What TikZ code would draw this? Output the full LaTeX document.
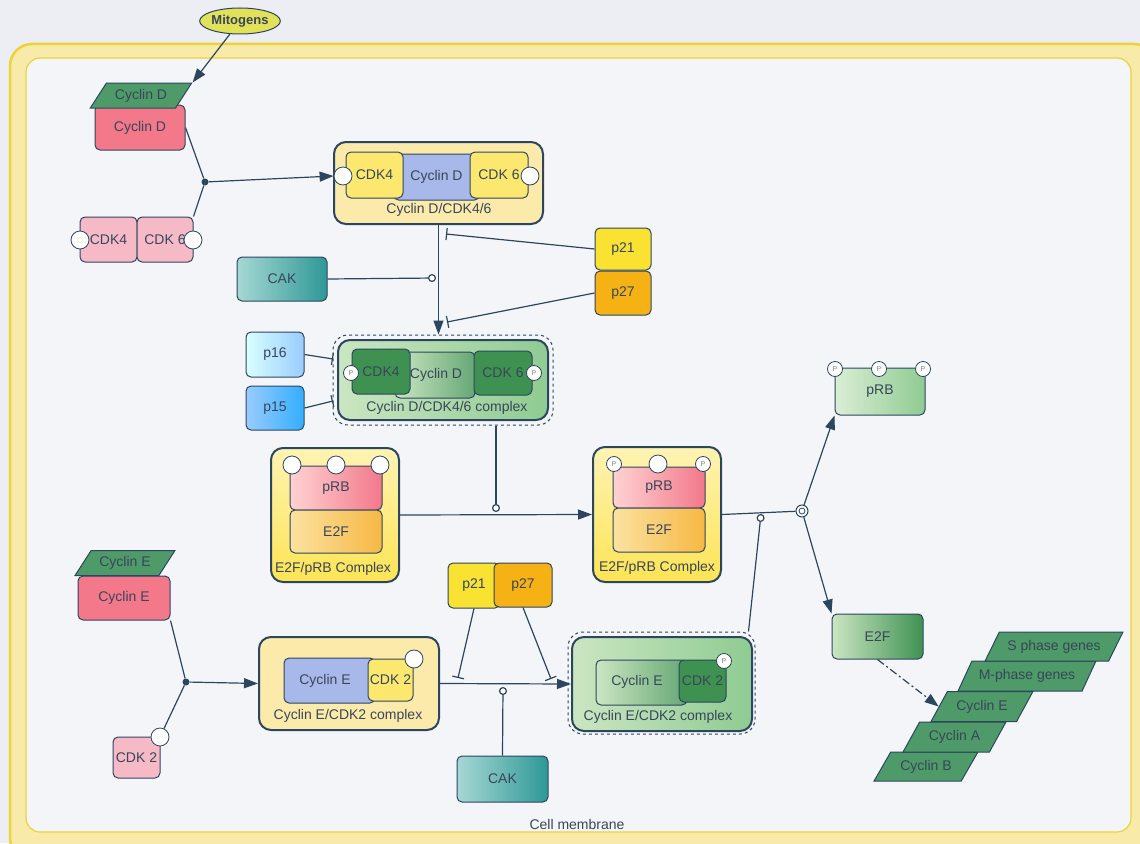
\documentclass[tikz,border=0pt]{standalone}
\usepackage{fontspec}
\setmainfont{Liberation Sans}
\usetikzlibrary{arrows.meta,shapes.geometric}

\definecolor{edge}{HTML}{2C4660}
\definecolor{txt}{HTML}{38465A}
\definecolor{bgout}{HTML}{ECEEF3}
\definecolor{bgin}{HTML}{F4F5F9}
\definecolor{memb}{HTML}{F8EAA8}
\definecolor{membedge}{HTML}{EDD23A}
\definecolor{mito}{HTML}{E2E25A}
\definecolor{genegreen}{HTML}{4E9A68}
\definecolor{cycpink}{HTML}{F2788A}
\definecolor{cdkpink}{HTML}{F6BAC6}
\definecolor{cplxyellow}{HTML}{FBEAAA}
\definecolor{cdkyellow}{HTML}{FCE86E}
\definecolor{cycblue}{HTML}{A8B8E8}
\definecolor{cdkgreen}{HTML}{3F9152}
\definecolor{lightgreen}{HTML}{CBE6C2}
\definecolor{midgreen}{HTML}{8FCB92}
\definecolor{pyellow}{HTML}{F9E232}
\definecolor{porange}{HTML}{F6B214}
\definecolor{caklight}{HTML}{A6D8D4}
\definecolor{cakdark}{HTML}{2E9896}
\definecolor{e2flight}{HTML}{FFF3B4}
\definecolor{e2fdark}{HTML}{FDE454}
\definecolor{peach}{HTML}{FBE2A0}
\definecolor{e2forange}{HTML}{F6B844}

\begin{document}
\begin{tikzpicture}[x=1pt,y=-1pt,
  font=\fontsize{14}{16}\selectfont, text=txt,
  box/.style={draw=edge, line width=1pt, rounded corners=5pt, inner sep=0pt},
  cplx/.style={draw=edge, line width=2pt, rounded corners=12pt, inner sep=0pt},
  halo/.style={draw=edge, line width=1pt, dashed, rounded corners=15pt, inner sep=0pt},
  port/.style={circle, draw=edge, fill=white, line width=0.8pt, minimum size=18pt, inner sep=0pt},
  pport/.style={port, minimum size=15pt, font=\fontsize{7}{7}\selectfont, text=gray},
  gene/.style={trapezium, trapezium left angle=47, trapezium right angle=133,
    trapezium stretches=true, draw=edge, line width=1pt, fill=genegreen, inner sep=0pt},
  dot/.style={circle, fill=edge, minimum size=7pt, inner sep=0pt},
  sink/.style={circle, draw=edge, fill=white, line width=1pt, minimum size=12pt, inner sep=0pt,
    path picture={\draw[edge,line width=0.8pt] (path picture bounding box.center) circle (3pt);}},
  link/.style={draw=edge, line width=1.2pt},
  conv/.style={link, -{Triangle[length=14pt,width=10pt]}},
  inhib/.style={link, -{Bar[width=12pt]}},
  cat/.style={link, -{Circle[length=8pt,width=8pt,fill=white]}},
]
\clip (0,0) rectangle (1140,843);
\fill[bgout] (0,0) rectangle (1140,843);
\draw[fill=memb, draw=membedge, line width=2.5pt, rounded corners=22pt] (10,44) rectangle (1156,860);
\draw[fill=bgin, draw=membedge, line width=1.2pt, rounded corners=14pt] (26,58) rectangle (1131,832);
\node (memlbl) at (577,824) {Cell membrane};

% mitogens and cyclin D
\node[ellipse, draw=edge, line width=1pt, fill=mito, minimum width=78pt, minimum height=26pt,
  inner sep=0pt, font=\fontsize{13}{15}\selectfont\bfseries] (mito) at (240,21) {Mitogens};
\node[box, fill=cycpink, minimum width=90pt, minimum height=45pt] (cycD) at (140,127.5) {Cyclin D};
\node[gene, minimum width=102pt, minimum height=25pt] (cycDg) at (141,95.5) {Cyclin D};
\node[box, fill=cdkpink, minimum width=57pt, minimum height=45pt] (cdk4a) at (108.5,239.5) {CDK4};
\node[box, fill=cdkpink, minimum width=56pt, minimum height=45pt] (cdk6a) at (165,239.5) {CDK 6};
\node[port] (pA4) at (80,240) {};
\node[port] (pA6) at (193,240) {};
\node[dot] (jD) at (205,182) {};

% cyclin D/CDK4/6
\node[cplx, fill=cplxyellow, minimum width=209pt, minimum height=82pt] (cplxD) at (438.5,183) {};
\node[box, fill=cycblue, minimum width=86pt, minimum height=46pt] (cDc) at (436.5,177) {};
\node[box, fill=cdkyellow, minimum width=57pt, minimum height=46pt] (cD4) at (374.5,175) {CDK4};
\node[box, fill=cdkyellow, minimum width=58pt, minimum height=46pt] (cD6) at (499,175) {CDK 6};
\node (cDlbl) at (436.5,177) {Cyclin D};
\node[port] (pD4) at (343,176) {};
\node[port] (pD6) at (530,176) {};
\node (lD) at (439,210) {Cyclin D/CDK4/6};

\node[box, fill=pyellow, minimum width=56pt, minimum height=42pt] (p21a) at (623,249) {p21};
\node[box, fill=porange, minimum width=56pt, minimum height=44pt] (p27a) at (623,293) {p27};
\node[box, left color=caklight, right color=cakdark, minimum width=90pt, minimum height=44pt] (cakA) at (282,279) {CAK};

% active cyclin D/CDK4/6
\node[halo, minimum width=220pt, minimum height=90pt] (cplxDPo) at (443,380) {};
\node[cplx, left color=lightgreen, right color=midgreen, minimum width=210pt, minimum height=80pt] (cplxDP) at (443,380) {};
\node[box, left color=lightgreen, right color=cdkgreen!80, minimum width=80pt, minimum height=46pt] (cDPc) at (435,375) {};
\node[box, fill=cdkgreen, minimum width=58pt, minimum height=45pt] (cDP4) at (381,371.5) {CDK4};
\node[box, fill=cdkgreen, minimum width=58pt, minimum height=44pt] (cDP6) at (503,373) {CDK 6};
\node (cDPlbl) at (436,375) {Cyclin D};
\node[pport] (pDP4) at (351,373) {P};
\node[pport] (pDP6) at (534,373) {P};
\node (lDP) at (447,408) {Cyclin D/CDK4/6 complex};

\node[box, left color=cyan!15, right color=cyan!50!blue!40, minimum width=58pt, minimum height=45pt] (p16) at (275,354.5) {p16};
\node[box, left color=cyan!50!blue!40, right color=cyan!60!blue!80, minimum width=58pt, minimum height=44pt] (p15) at (275,408) {p15};

% E2F/pRB complexes
\node[cplx, top color=e2flight, bottom color=e2fdark, minimum width=128pt, minimum height=134pt] (eL) at (335,515) {};
\node[box, left color=pink!70, right color=cycpink, minimum width=92pt, minimum height=44pt] (pR1) at (336,488) {pRB};
\node[box, left color=peach, right color=e2forange, minimum width=92pt, minimum height=43pt] (eF1) at (336,531.5) {E2F};
\node[port] (pL1) at (292,465) {};
\node[port] (pL2) at (336,465) {};
\node[port] (pL3) at (380,465) {};
\node (lL) at (333,569) {E2F/pRB Complex};

\node[cplx, top color=e2flight, bottom color=e2fdark, minimum width=128pt, minimum height=135pt] (eR) at (657,514.5) {};
\node[box, left color=pink!70, right color=cycpink, minimum width=92pt, minimum height=41pt] (pR2) at (659,487.5) {pRB};
\node[box, left color=peach, right color=e2forange, minimum width=92pt, minimum height=44pt] (eF2) at (659,530) {E2F};
\node[pport] (pRa) at (614,464) {P};
\node[port] (pRb) at (658,464) {};
\node[pport] (pRc) at (703,464) {P};
\node (lR) at (657,568) {E2F/pRB Complex};

\node[sink] (jR) at (802,511) {};
\node[box, left color=lightgreen!70, right color=midgreen, minimum width=90pt, minimum height=47pt] (pRBg) at (880,391.5) {pRB};
\node[pport] (pG1) at (835,369) {P};
\node[pport] (pG2) at (879,369) {P};
\node[pport] (pG3) at (923,369) {P};
\node[box, left color=lightgreen, right color=cdkgreen, minimum width=91pt, minimum height=45pt] (e2fg) at (877.5,636.5) {E2F};

% target genes
\node[gene, minimum width=104pt, minimum height=29pt] (gB) at (926,766.5) {Cyclin B};
\node[gene, minimum width=103pt, minimum height=30pt] (gA) at (954.5,737) {Cyclin A};
\node[gene, minimum width=102pt, minimum height=30pt] (gE) at (982,706.5) {Cyclin E};
\node[gene, minimum width=138pt, minimum height=30pt] (gM) at (1027,676) {M-phase genes};
\node[gene, minimum width=138pt, minimum height=29pt] (gS) at (1054,646.5) {S phase genes};

% cyclin E/CDK2
\node[box, fill=cycpink, minimum width=92pt, minimum height=44pt] (cycE) at (124,598) {Cyclin E};
\node[gene, minimum width=100pt, minimum height=25pt] (gCE) at (125,563) {Cyclin E};
\node[box, fill=cdkpink, minimum width=47pt, minimum height=41pt] (cdk2a) at (136.5,757.5) {CDK 2};
\node[port] (pC2) at (160,737) {};
\node[dot] (jE) at (186,682) {};

\node[cplx, fill=cplxyellow, minimum width=180pt, minimum height=93pt] (cplxE) at (349,683.5) {};
\node[box, fill=cycblue, minimum width=91pt, minimum height=45pt] (cEc) at (329.5,680.5) {};
\node[box, fill=cdkyellow, minimum width=45pt, minimum height=42pt] (cE2) at (390.5,680) {CDK 2};
\node (cElbl) at (325,681) {Cyclin E};
\node[port] (pE2) at (414,659) {};
\node (lE) at (348,716) {Cyclin E/CDK2 complex};

\node[box, fill=pyellow, minimum width=52pt, minimum height=45pt] (p21b) at (474,585.5) {p21};
\node[box, fill=porange, minimum width=58pt, minimum height=44pt] (p27b) at (523,585) {p27};
\node[box, left color=caklight, right color=cakdark, minimum width=91pt, minimum height=46pt] (cakB) at (502.5,779) {CAK};

\node[halo, minimum width=187pt, minimum height=102pt] (cplxEPo) at (661.5,683) {};
\node[cplx, left color=lightgreen, right color=midgreen, minimum width=180pt, minimum height=94pt] (cplxEP) at (662,684) {};
\node[box, left color=lightgreen, right color=cdkgreen!80, minimum width=91pt, minimum height=45pt] (cEPc) at (641.5,682.5) {};
\node[box, fill=cdkgreen, minimum width=47pt, minimum height=42pt] (cEP2) at (702.5,681) {CDK 2};
\node (cEPlbl) at (637,682) {Cyclin E};
\node[pport] (pEP) at (724,661) {P};
\node (lEP) at (658,717) {Cyclin E/CDK2 complex};

% free ends
\coordinate (cD) at (436,278);
\coordinate (iD1) at (446,234);
\coordinate (iD2) at (447,322);
\coordinate (iD3) at (333,359);
\coordinate (iD4) at (333,401);
\coordinate (cE1) at (496,512);
\coordinate (cE2c) at (761,514);
\coordinate (iE1) at (458,678);
\coordinate (iE2) at (551,679);
\coordinate (cE3) at (503,687);

% connectors
\draw[conv] (mito) -- (cycDg.top right corner);
\draw[link] (cycD.east) -- (jD) -- (cdk6a.north east);
\draw[conv] (jD) -- (pD4.west);
\draw[conv] (cplxD.south) -- (cplxD.south |- cplxDPo.north);
\draw[cat] (cakA.east) -- (cD);
\draw[inhib] (p21a.west) -- (iD1);
\draw[inhib] (p27a.west) -- (iD2);
\draw[inhib] (p16.east) -- (iD3);
\draw[inhib] (p15.east) -- (iD4);
\draw[conv] (eL.east) -- (eR.west);
\draw[cat] (cE1 |- cplxDPo.south) -- (cE1);
\draw[link] (eR.east) -- (jR);
\draw[conv] (jR) -- (pRBg.south west);
\draw[conv] (jR) -- (e2fg.north west);
\draw[cat] ([xshift=-7pt]cplxEPo.north east) -- (cE2c);
\draw[conv, dash pattern=on 8pt off 3pt on 2pt off 3pt] (e2fg.south) -- (gE.west);
\draw[link] (cycE.south east) -- (jE) -- (pC2);
\draw[conv] (jE) -- (cplxE.west);
\draw[conv] (cplxE.east) -- (cplxEP.west);
\draw[inhib] (p21b.south) -- (iE1);
\draw[inhib] (p27b.south) -- (iE2);
\draw[cat] (cakB.north) -- (cE3);
\end{tikzpicture}
\end{document}
